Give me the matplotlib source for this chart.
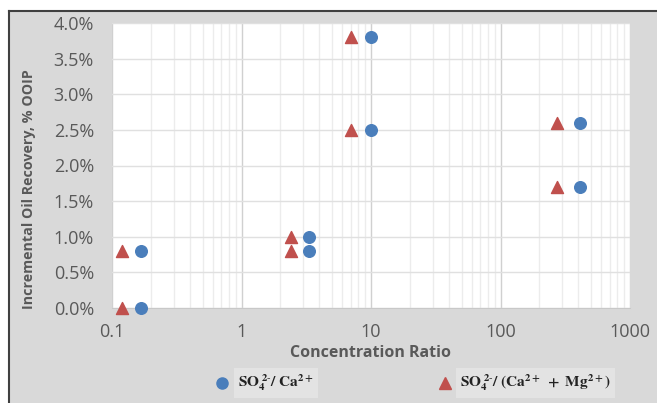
import matplotlib.pyplot as plt
from matplotlib.ticker import FixedLocator, LogLocator, NullFormatter, FuncFormatter
from matplotlib.patches import Rectangle
from matplotlib.lines import Line2D

plt.rcParams['font.family'] = ['Open Sans', 'DejaVu Sans']
plt.rcParams['mathtext.fontset'] = 'stix'

# --- data ---
ca_ratio = [0.167, 0.167, 3.33, 3.33, 10, 10, 410, 410]
ca_recovery = [0.008, 0.0, 0.010, 0.008, 0.038, 0.025, 0.026, 0.017]
camg_ratio = [0.12, 0.12, 2.4, 2.4, 7.0, 7.0, 272, 272]
camg_recovery = [0.008, 0.0, 0.010, 0.008, 0.038, 0.025, 0.026, 0.017]

x_ticks = [0.1, 1, 10, 100, 1000]
x_labels = ['0.1', '1', '10', '100', '1000']
y_ticks = [0, 0.005, 0.01, 0.015, 0.02, 0.025, 0.03, 0.035, 0.04]

W, H = 657, 403
fig = plt.figure(figsize=(W / 100, H / 100), dpi=100)
fig.patch.set_facecolor('white')

# grey chart area with dark border (top and left)
fig.patches.append(Rectangle((9 / W, 0), 1 - 9 / W, 1 - 11 / H, transform=fig.transFigure,
                             facecolor='#d9d9d9', edgecolor='none', zorder=-10))
fig.lines.append(Line2D([9 / W, 1], [1 - 11 / H, 1 - 11 / H], transform=fig.transFigure,
                        color='#404040', lw=1.5))
fig.lines.append(Line2D([9 / W, 9 / W], [0, 1 - 11 / H], transform=fig.transFigure,
                        color='#404040', lw=1.5))

ax = fig.add_axes([112 / W, 1 - 308 / H, (630 - 112) / W, (308 - 23) / H])
ax.set_facecolor('white')
ax.set_xscale('log')
ax.set_xlim(0.1, 1000)
ax.set_ylim(0, 0.04)

ax.xaxis.set_major_locator(FixedLocator(x_ticks))
ax.set_xticklabels(x_labels)
ax.xaxis.set_minor_locator(LogLocator(base=10, subs=range(2, 10)))
ax.xaxis.set_minor_formatter(NullFormatter())
ax.set_yticks(y_ticks)
ax.yaxis.set_major_formatter(FuncFormatter(lambda v, p: f'{v * 100:.1f}%'))

ax.grid(True, which='major', axis='x', color='#d0d0d0', lw=1.0)
ax.grid(True, which='minor', axis='x', color='#ececec', lw=1.0)
ax.grid(True, which='major', axis='y', color='#e0e0e0', lw=1.0)
ax.set_axisbelow(True)

for s in ['top', 'right', 'left']:
    ax.spines[s].set_visible(False)
ax.spines['bottom'].set_color('#c8c8c8')
ax.tick_params(which='both', length=0, labelsize=13, labelcolor='#595959')
ax.tick_params(axis='x', pad=11)
ax.tick_params(axis='y', pad=13)

ax.scatter(ca_ratio, ca_recovery, marker='o', s=70, color='#4a7ebb', zorder=3, clip_on=False)
ax.scatter(camg_ratio, camg_recovery, marker='^', s=75, color='#c0504d', zorder=3, clip_on=False)

ax.set_xlabel('Concentration Ratio', fontsize=11.5, fontweight='bold', color='#595959', labelpad=3)
ax.set_ylabel('Incremental Oil Recovery, % OOIP', fontsize=10.3, fontweight='bold',
              color='#595959', va='center')
ax.yaxis.set_label_coords(-0.160, 0.418)

# legend
leg_y = 1 - 383 / H
fig.lines.append(Line2D([222 / W], [leg_y], transform=fig.transFigure, marker='o',
                        markersize=8, color='#4a7ebb', linestyle='none'))
fig.lines.append(Line2D([445 / W], [leg_y], transform=fig.transFigure, marker='^',
                        markersize=9, color='#c0504d', linestyle='none'))
fig.text(238 / W, leg_y, r'$\mathbf{SO_4^{\ 2\text{-}}/\ Ca^{2+}}$', fontsize=11,
         va='center', ha='left', color='#222222',
         bbox=dict(facecolor='#e3e3e3', edgecolor='none', pad=3))
fig.text(460 / W, leg_y, r'$\mathbf{SO_4^{\ 2\text{-}}/\ (Ca^{2+}\ +\ Mg^{2+})}$', fontsize=11,
         va='center', ha='left', color='#222222',
         bbox=dict(facecolor='#e3e3e3', edgecolor='none', pad=3))

fig.savefig('out.png', dpi=100)
